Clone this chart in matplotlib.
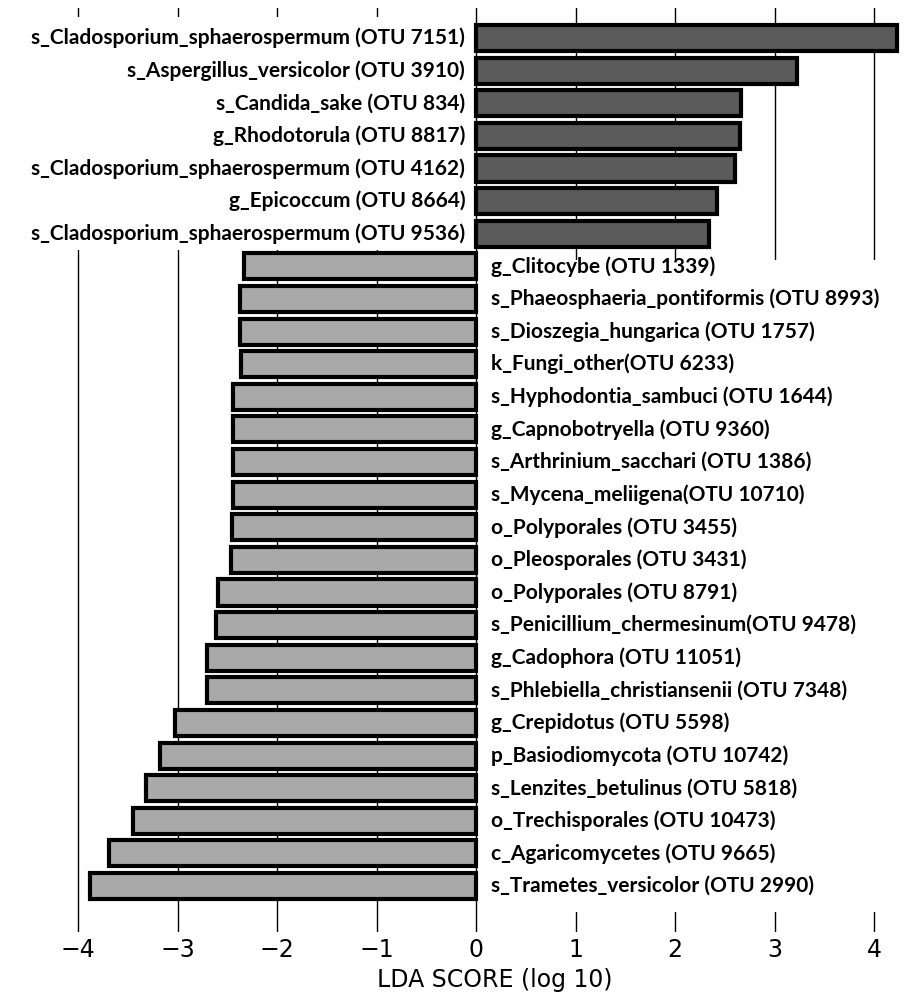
import matplotlib.pyplot as plt
from matplotlib.patches import Rectangle

# LDA scores (positive group on top, negative group below)
pos_labels = [
    "s_Cladosporium_sphaerospermum (OTU 7151)",
    "s_Aspergillus_versicolor (OTU 3910)",
    "s_Candida_sake (OTU 834)",
    "g_Rhodotorula (OTU 8817)",
    "s_Cladosporium_sphaerospermum (OTU 4162)",
    "g_Epicoccum (OTU 8664)",
    "s_Cladosporium_sphaerospermum (OTU 9536)",
]
pos_scores = [4.23, 3.22, 2.66, 2.65, 2.60, 2.42, 2.34]

neg_labels = [
    "g_Clitocybe (OTU 1339)",
    "s_Phaeosphaeria_pontiformis (OTU 8993)",
    "s_Dioszegia_hungarica (OTU 1757)",
    "k_Fungi_other(OTU 6233)",
    "s_Hyphodontia_sambuci (OTU 1644)",
    "g_Capnobotryella (OTU 9360)",
    "s_Arthrinium_sacchari (OTU 1386)",
    "s_Mycena_meliigena(OTU 10710)",
    "o_Polyporales (OTU 3455)",
    "o_Pleosporales (OTU 3431)",
    "o_Polyporales (OTU 8791)",
    "s_Penicillium_chermesinum(OTU 9478)",
    "g_Cadophora (OTU 11051)",
    "s_Phlebiella_christiansenii (OTU 7348)",
    "g_Crepidotus (OTU 5598)",
    "p_Basiodiomycota (OTU 10742)",
    "s_Lenzites_betulinus (OTU 5818)",
    "o_Trechisporales (OTU 10473)",
    "c_Agaricomycetes (OTU 9665)",
    "s_Trametes_versicolor (OTU 2990)",
]
neg_scores = [-2.33, -2.37, -2.37, -2.36, -2.44, -2.44, -2.44, -2.44, -2.45, -2.46,
              -2.59, -2.61, -2.70, -2.70, -3.03, -3.18, -3.32, -3.45, -3.69, -3.88]

xticks = [-4, -3, -2, -1, 0, 1, 2, 3, 4]

labels = pos_labels + neg_labels
scores = pos_scores + neg_scores
n = len(scores)
n_neg = len(neg_scores)
ypos = [n - 1 - i for i in range(n)]
colors = ["#5a5a5a"] * len(pos_scores) + ["#a9a9a9"] * n_neg

fig = plt.figure(figsize=(9.13, 10.02), dpi=100)
ax = fig.add_axes([20 / 913, 70 / 1002, 885 / 913, 924 / 1002])

# grid lines behind everything
for t in xticks:
    ax.axvline(t, color="black", lw=1.0, zorder=0)

# white masks where the labels sit
xmin, xmax = -4.583, 4.31
ax.add_patch(Rectangle((xmin, n_neg - 0.5), -xmin - 0.02, len(pos_scores) + 0.15,
                       facecolor="white", edgecolor="none", zorder=1))
ax.add_patch(Rectangle((0.02, -0.8), xmax, n_neg,
                       facecolor="white", edgecolor="none", zorder=1))

ax.barh(ypos, scores, height=0.8, color=colors, edgecolor="black", linewidth=3, zorder=2)

for y, s, lab in zip(ypos, scores, labels):
    if s > 0:
        ax.text(-0.11, y, lab, ha="right", va="center", fontsize=15,
                fontweight="bold", family="Lato", zorder=3)
    else:
        ax.text(0.15, y, lab, ha="left", va="center", fontsize=15,
                fontweight="bold", family="Lato", zorder=3)

ax.set_xlim(xmin, xmax)
ax.set_ylim(-1.41, n - 1 + 0.92)
ax.set_xticks(xticks)
ax.set_yticks([])
ax.tick_params(axis="x", length=0, pad=4.5, labelsize=17)
for sp in ax.spines.values():
    sp.set_visible(False)
ax.set_xlabel("LDA SCORE (log 10)", fontsize=17, labelpad=4)
ax.xaxis.label.set_x(0.537)

fig.savefig("out.png", dpi=100)
